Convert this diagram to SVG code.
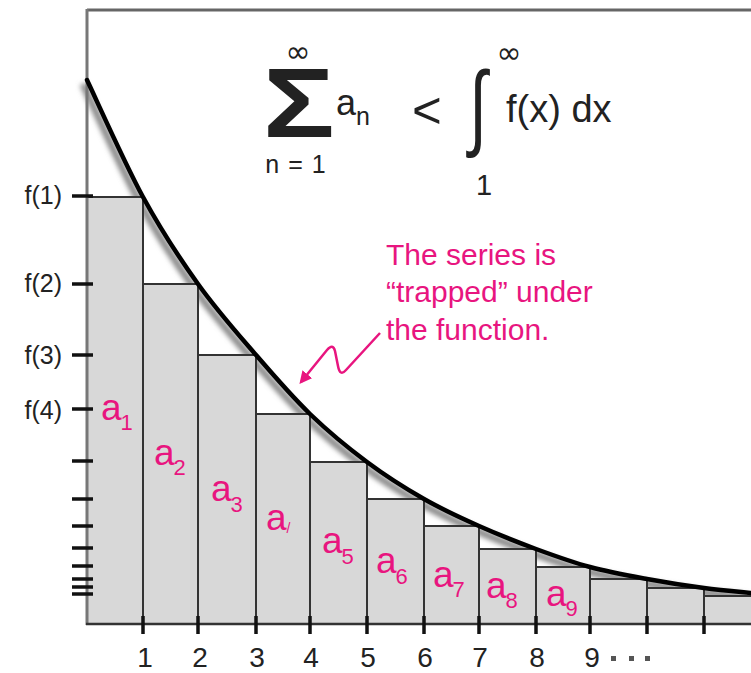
<svg xmlns="http://www.w3.org/2000/svg" width="751" height="673" viewBox="0 0 751 673">
<style>
.bar{fill:#d8d8d8;stroke:#333;stroke-width:2}
.tk{stroke:#111;stroke-width:3.5}
.lbl{font-family:"Liberation Sans",Arial,sans-serif;fill:#222}
.pk{font-family:"Liberation Sans",Arial,sans-serif;fill:#e8157f}
.fm{font-family:"Liberation Sans",Arial,sans-serif;fill:#222}
</style>
<defs>
<filter id="blur" x="-10%" y="-10%" width="120%" height="120%"><feGaussianBlur stdDeviation="2.5"/></filter>
<marker id="ah" viewBox="0 0 10 10" refX="8" refY="5" markerWidth="5" markerHeight="5" orient="auto"><path d="M0,0 L10,5 L0,10 z" fill="#e8157f"/></marker>
</defs>
<rect width="751" height="673" fill="#fff"/>
<!-- curve shadow -->
<path d="M87,80 C96.3,99.5 124.5,163 143,197 C161.5,231 179.2,257.7 198,284 C216.8,310.3 237.3,333.3 256,355 C274.7,376.7 291.5,396.2 310,414 C328.5,431.8 348,447.8 367,462 C386,476.2 405.3,488.3 424,499 C442.7,509.7 460.3,517.7 479,526 C497.7,534.3 517.5,542.2 536,549 C554.5,555.8 571.5,562 590,567 C608.5,572 628,575.5 647,579 C666,582.5 686.7,585.7 704,588 C721.3,590.3 743.2,592.2 751,593" fill="none" stroke="#888" stroke-width="7" transform="translate(-4,4)" filter="url(#blur)"/>
<g id="bars">
<rect class="bar" x="87" y="197" width="56" height="427"/>
<rect class="bar" x="143" y="284" width="55" height="340"/>
<rect class="bar" x="198" y="355" width="58" height="269"/>
<rect class="bar" x="256" y="414" width="54" height="210"/>
<rect class="bar" x="310" y="462" width="57" height="162"/>
<rect class="bar" x="367" y="499" width="57" height="125"/>
<rect class="bar" x="424" y="526" width="55" height="98"/>
<rect class="bar" x="479" y="549" width="57" height="75"/>
<rect class="bar" x="536" y="567" width="54" height="57"/>
<rect class="bar" x="590" y="579" width="57" height="45"/>
<rect class="bar" x="647" y="588" width="57" height="36"/>
<rect class="bar" x="704" y="596" width="50" height="28"/>
</g>
<g id="frame">
<line x1="87" y1="10" x2="751" y2="10" stroke="#666" stroke-width="3"/>
<line x1="87" y1="9" x2="87" y2="625" stroke="#777" stroke-width="3"/>
<line x1="86" y1="624" x2="751" y2="624" stroke="#333" stroke-width="2.5"/>
</g>
<g id="yticks">
<line class="tk" x1="72" y1="196" x2="93" y2="196" stroke="#444"/>
<line class="tk" x1="72" y1="284" x2="93" y2="284"/>
<line class="tk" x1="72" y1="355" x2="93" y2="355"/>
<line class="tk" x1="72" y1="409" x2="93" y2="409"/>
<line class="tk" x1="72" y1="461" x2="93" y2="461"/>
<line class="tk" x1="72" y1="499" x2="93" y2="499"/>
<line class="tk" x1="72" y1="526" x2="93" y2="526"/>
<line class="tk" x1="72" y1="548" x2="93" y2="548"/>
<line class="tk" x1="72" y1="566" x2="93" y2="566"/>
<line class="tk" x1="72" y1="579" x2="93" y2="579"/>
<line class="tk" x1="72" y1="587" x2="93" y2="587"/>
<line class="tk" x1="72" y1="594" x2="93" y2="594"/>
</g>
<g id="xticks">
<line class="tk" x1="143" y1="616" x2="143" y2="634"/>
<line class="tk" x1="198" y1="616" x2="198" y2="634"/>
<line class="tk" x1="256" y1="616" x2="256" y2="634"/>
<line class="tk" x1="310" y1="616" x2="310" y2="634"/>
<line class="tk" x1="367" y1="616" x2="367" y2="634"/>
<line class="tk" x1="424" y1="616" x2="424" y2="634"/>
<line class="tk" x1="479" y1="616" x2="479" y2="634"/>
<line class="tk" x1="536" y1="616" x2="536" y2="634"/>
<line class="tk" x1="590" y1="616" x2="590" y2="634"/>
<line class="tk" x1="647" y1="616" x2="647" y2="634"/>
<line class="tk" x1="704" y1="616" x2="704" y2="634"/>
</g>
<path id="curve" d="M87,80 C96.3,99.5 124.5,163 143,197 C161.5,231 179.2,257.7 198,284 C216.8,310.3 237.3,333.3 256,355 C274.7,376.7 291.5,396.2 310,414 C328.5,431.8 348,447.8 367,462 C386,476.2 405.3,488.3 424,499 C442.7,509.7 460.3,517.7 479,526 C497.7,534.3 517.5,542.2 536,549 C554.5,555.8 571.5,562 590,567 C608.5,572 628,575.5 647,579 C666,582.5 686.7,585.7 704,588 C721.3,590.3 743.2,592.2 751,593" fill="none" stroke="#000" stroke-width="4.5" stroke-linecap="round"/>
<g id="ylabels" class="lbl" font-size="25" text-anchor="end">
<text x="62" y="204">f(1)</text>
<text x="62" y="292">f(2)</text>
<text x="62" y="364">f(3)</text>
<text x="62" y="419">f(4)</text>
</g>
<g id="xlabels" class="lbl" font-size="28" text-anchor="middle">
<text x="145" y="667">1</text>
<text x="200" y="667">2</text>
<text x="257" y="667">3</text>
<text x="311" y="667">4</text>
<text x="368" y="667">5</text>
<text x="425" y="667">6</text>
<text x="480" y="667">7</text>
<text x="537" y="667">8</text>
<text x="592" y="667">9</text>
<rect x="611" y="656" width="5" height="5" fill="#555"/>
<rect x="629" y="656" width="5" height="5" fill="#555"/>
<rect x="645" y="656" width="5" height="5" fill="#555"/>
</g>
<g id="alabels" class="pk">
<text x="101" y="420" font-size="37">a<tspan dx="-1" dy="10" font-size="22">1</tspan></text>
<text x="154" y="465" font-size="37">a<tspan dx="-1" dy="10" font-size="22">2</tspan></text>
<text x="211" y="501" font-size="37">a<tspan dx="-1" dy="11" font-size="22">3</tspan></text>
<text x="266" y="530" font-size="37">a<tspan dx="0" dy="3" font-size="14">/</tspan></text>
<text x="322" y="553" font-size="37">a<tspan dx="-1" dy="11" font-size="22">5</tspan></text>
<text x="376" y="573" font-size="37">a<tspan dx="-1" dy="11" font-size="22">6</tspan></text>
<text x="433" y="587" font-size="37">a<tspan dx="-1" dy="10" font-size="22">7</tspan></text>
<text x="486" y="598" font-size="37">a<tspan dx="-1" dy="10" font-size="22">8</tspan></text>
<text x="546" y="606" font-size="37">a<tspan dx="-1" dy="10" font-size="22">9</tspan></text>
</g>
<g id="formula" class="fm">
<text transform="translate(263,137) scale(1.22,1)" font-size="98" font-weight="bold">Σ</text>
<text x="298" y="62" font-size="30" text-anchor="middle" font-family="DejaVu Sans,sans-serif">∞</text>
<text x="296" y="173" font-size="25" text-anchor="middle" letter-spacing="1" xml:space="preserve">n = 1</text>
<text x="336" y="115" font-size="36">a<tspan dy="10" font-size="25">n</tspan></text>
<text x="427" y="128" font-size="51" text-anchor="middle">&lt;</text>
<text transform="translate(478,138) scale(1,1.48)" font-size="64" text-anchor="middle">∫</text>
<text x="509" y="63" font-size="30" text-anchor="middle" font-family="DejaVu Sans,sans-serif">∞</text>
<text x="484" y="195" font-size="29" text-anchor="middle">1</text>
<text x="506" y="122" font-size="38">f(x) dx</text>
</g>
<g id="note" class="pk" font-size="30">
<text x="386" y="265">The series is</text>
<text x="386" y="302">“trapped” under</text>
<text x="386" y="340">the function.</text>
</g>
<g id="connectors">
<path d="M380,333 L346,370 Q340,377 338,366 L335,351 Q333,343 327,350 L301,382" fill="none" stroke="#e8157f" stroke-width="2.5" marker-end="url(#ah)"/>
</g>
</svg>
